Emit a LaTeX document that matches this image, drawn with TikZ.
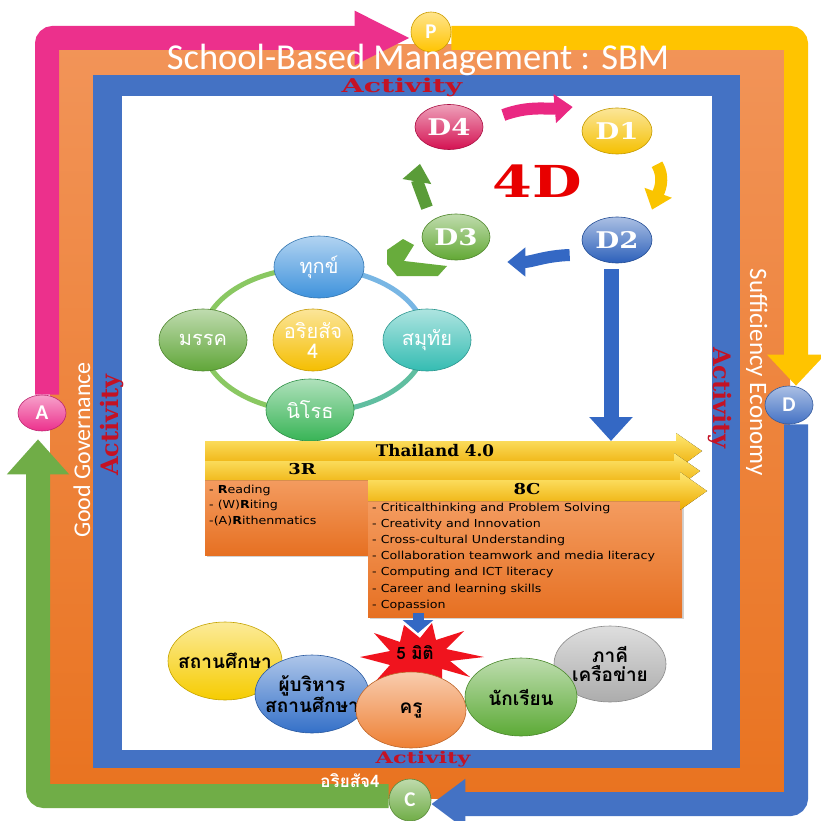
\documentclass[tikz,border=0pt]{standalone}
\usepackage{fontspec}
\usepackage{graphicx}
\usetikzlibrary{shapes.geometric,arrows.meta,calc,shadows}
\newfontfamily\thai[Script=Thai]{Loma}
\newfontfamily\carl{Carlito}
\newfontfamily\djs{DejaVu Serif}
\newfontfamily\djsans{DejaVu Sans}
\newcommand\zw[1]{\makebox[0pt]{#1}}
\newcommand\fsz[1]{\fontsize{#1}{#1}\selectfont}
\newcommand\wide[1]{\scalebox{1.15}[1]{#1}}
\definecolor{pinkF}{RGB}{236,48,140}
\definecolor{yellowF}{RGB}{255,196,0}
\definecolor{blueF}{RGB}{68,114,196}
\definecolor{greenF}{RGB}{112,173,71}
\definecolor{orangeT}{RGB}{242,148,88}
\definecolor{orangeB}{RGB}{233,115,32}
\definecolor{bandblue}{RGB}{68,114,196}
\definecolor{actred}{RGB}{196,18,36}
\definecolor{dfour}{RGB}{212,18,82}
\definecolor{done}{RGB}{245,192,0}
\definecolor{dtwo}{RGB}{44,96,186}
\definecolor{dthree}{RGB}{98,168,52}
\definecolor{cdukkha}{RGB}{62,146,220}
\definecolor{cmagga}{RGB}{96,166,56}
\definecolor{csamu}{RGB}{52,188,178}
\definecolor{cniro}{RGB}{56,180,86}
\definecolor{cariya}{RGB}{245,190,0}
\definecolor{ringg}{RGB}{138,200,98}
\definecolor{ringb}{RGB}{120,182,228}
\definecolor{ringt}{RGB}{96,190,160}
\definecolor{cschool}{RGB}{246,204,0}
\definecolor{cadmin}{RGB}{52,112,200}
\definecolor{cteach}{RGB}{238,128,52}
\definecolor{cstud}{RGB}{92,170,54}
\definecolor{cnet}{RGB}{172,172,172}
\definecolor{bary}{RGB}{255,214,0}
\definecolor{barD}{RGB}{236,170,0}
\definecolor{boxT}{RGB}{244,156,96}
\definecolor{boxB}{RGB}{230,112,34}
\definecolor{fourD}{RGB}{232,0,0}
\definecolor{starred}{RGB}{240,20,30}
\definecolor{chev}{RGB}{104,172,60}
\definecolor{arrpink}{RGB}{234,40,130}
\definecolor{arryel}{RGB}{250,196,0}
\definecolor{arrblue}{RGB}{52,104,196}
\definecolor{arrgreen}{RGB}{90,156,56}
\pgfdeclarelayer{back}
\pgfdeclarelayer{mid}
\pgfsetlayers{back,mid,main}
\tikzset{
  bub/.style={ellipse, inner sep=0pt, top color=#1!40!white, bottom color=#1, draw=#1!80!black, line width=0.6pt},
  pdca/.style={ellipse, inner sep=0pt, top color=#1!45!white, bottom color=#1, draw=#1!80!black, line width=0.6pt, text=white, font=\carl\bfseries\fsz{21}},
  framearrow/.style={line width=24pt, rounded corners=6pt},
  fatarrow/.style={draw=#1, line width=12pt, -{Triangle[width=28pt,length=18pt]}},
  bandtext/.style={text=white, font=\carl\fsz{#1}, inner sep=0pt},
  acttext/.style={text=actred, font=\djs\bfseries\fsz{#1}, inner sep=0pt},
  dlabel/.style={text=white, font=\djs\bfseries\fsz{23}},
  truth/.style={text=white, font=\thai\fsz{20}},
  person/.style={text=black, font=\thai\bfseries\fsz{19}},
  bartext/.style={text=black, font=\djs\bfseries\fsz{#1}, inner sep=0pt},
  listtext/.style={text=black, font=\djsans\fsz{11}, inner sep=0pt, anchor=west},
  orbox/.style={rectangle, inner sep=0pt, top color=boxT, bottom color=boxB, drop shadow={opacity=0.35, shadow xshift=2pt, shadow yshift=-2pt}},
}
\begin{document}
\begin{tikzpicture}[x=1pt,y=1pt]
\useasboundingbox (0,0) rectangle (821,-821);
\begin{pgfonlayer}{back}
\fill[white] (0,0) rectangle (821,-821);
\fill[top color=orangeT, bottom color=orangeB] (50,-45) rectangle (790,-798);
\fill[bandblue] (93,-75) rectangle (740,-768);
\fill[white] (122,-96) rectangle (712,-750);
\end{pgfonlayer}

% PDCA nodes
\node[pdca=yellowF, minimum width=40pt, minimum height=40pt] (P) at (431,-32) {\zw{P}};
\node[pdca=blueF, minimum width=48pt, minimum height=38pt] (D) at (789,-405) {\zw{D}};
\node[pdca=greenF, minimum width=42pt, minimum height=42pt] (C) at (410,-800) {\zw{C}};
\node[pdca=pinkF, minimum width=48pt, minimum height=36pt] (A) at (42,-413) {\zw{A}};

\begin{pgfonlayer}{mid}
\draw[framearrow, pinkF, -{Triangle[width=50pt,length=56pt]}] ([xshift=5pt]A.north) |- ([yshift=-6pt]P.west);
\draw[framearrow, yellowF, -{Triangle[width=56pt,length=31pt]}] ([yshift=-6pt]P.east) -| ([xshift=7pt]D.north);
\draw[framearrow, blueF, -{Triangle[width=48pt,length=34pt]}] ([xshift=7pt]D.south) |- ([yshift=-4pt]C.east);
\draw[framearrow, greenF, -{Triangle[width=60pt,length=35pt]}] ([yshift=4pt]C.west) -| ([xshift=-4pt,yshift=-8pt]A.south);
\end{pgfonlayer}

% band texts
\node[bandtext=36.5, anchor=base] (sbm) at (418,-70) {School-Based Management : SBM};
\node[bandtext=24, anchor=base, rotate=90] (gg) at (90,-450) {Good Governance};
\node[bandtext=25, anchor=base, rotate=-90] (se) at (750,-372) {Sufficiency Economy};
\node[acttext=19] (actT) at (402,-87) {\scalebox{1.5}[1]{Activity}};
\node[acttext=24, rotate=90] (actL) at (112,-425) {Activity};
\node[acttext=24, rotate=-90] (actR) at (720,-398) {Activity};
\node[acttext=16] (actB) at (423,-759) {\scalebox{1.4}[1]{Activity}};
\node[text=white, font=\thai\bfseries\fsz{17}, inner sep=0pt] (ariyaB) at (350,-781) {อริยสัจ4};

% 4D cycle
\node[bub=dfour, minimum width=68pt, minimum height=45pt, dlabel] (D4) at (449,-127) {\zw{\scalebox{1.2}[1]{D4}}};
\node[bub=done, minimum width=70pt, minimum height=46pt, dlabel] (D1) at (617,-131) {\zw{\scalebox{1.2}[1]{D1}}};
\node[bub=dtwo, minimum width=70pt, minimum height=46pt, dlabel] (D2) at (617,-240) {\zw{\scalebox{1.2}[1]{D2}}};
\node[bub=dthree, minimum width=68pt, minimum height=46pt, dlabel] (D3) at (456,-237) {\zw{\scalebox{1.2}[1]{D3}}};
\node[text=fourD, font=\djs\bfseries\fsz{44}, inner sep=0pt] (fourd) at (537,-181) {\scalebox{1.3}[1]{4D}};
\draw[fatarrow=arrpink] ($(D4.east)+(20,12)$) to[out=20,in=185] ($(D1.west)+(-9,24)$);
\draw[fatarrow=arryel] ($(D1.south)+(40,-10)$) to[out=-60,in=70] ($(D2.north)+(35,7)$);
\draw[fatarrow=arrblue] ($(D2.west)+(-12,-15)$) to[out=182,in=0] ($(D3.east)+(17,-25)$);
\draw[fatarrow=arrgreen] ($(D3.north)+(-29,6)$) to[out=110,in=-100] ($(D4.south)+(-29,-14)$);
\fill[chev] (387,-250) -- (403,-239) -- (414,-245) -- (404,-261) -- (447,-266) -- (438,-276) -- (397,-276) -- (387,-264) -- cycle;

% four noble truths
\coordinate (ringc) at (314,-340);
\draw[line width=5pt, ringg] ($(ringc)+(0,72)$) arc[start angle=90, end angle=270, x radius=112, y radius=72];
\draw[line width=5pt, ringb] ($(ringc)+(0,72)$) arc[start angle=90, end angle=0, x radius=112, y radius=72];
\draw[line width=5pt, ringt] ($(ringc)+(112,0)$) arc[start angle=0, end angle=-90, x radius=112, y radius=72];
\node[bub=cdukkha, minimum width=90pt, minimum height=62pt, truth] (dukkha) at (319,-267) {ทุกข์};
\node[bub=cmagga, minimum width=88pt, minimum height=62pt, truth] (magga) at (203,-340) {มรรค};
\node[bub=csamu, minimum width=88pt, minimum height=62pt, truth] (samu) at (427,-340) {สมุทัย};
\node[bub=cniro, minimum width=88pt, minimum height=62pt, truth] (niro) at (310,-410) {นิโรธ};
\node[bub=cariya, minimum width=80pt, minimum height=62pt, text=white, font=\thai\fsz{20}, align=center] (ariya) at (313,-340) {\zw{อริยสัจ}\\\zw{4}};

% Thailand 4.0 / 3R / 8C
\coordinate (T40) at (611,-441);
\draw[draw=arrblue, line width=15pt, -{Triangle[width=42pt,length=24pt]}] ($(D2.south)+(-6,-6)$) -- (T40);
\node[orbox, minimum width=195pt, minimum height=76pt, anchor=north west] (R3box) at (205,-479) {};
\node[orbox, minimum width=314pt, minimum height=117pt, anchor=north west] (C8box) at (368,-500) {};
\fill[top color=bary!55!white, bottom color=barD] (205,-441) -- (676,-441) -- (676,-433) -- (702,-451) -- (676,-470) -- (676,-461) -- (205,-461) -- cycle;
\fill[top color=bary!55!white, bottom color=barD] (205,-461) -- (674,-461) -- (674,-453) -- (700,-471) -- (674,-490) -- (674,-480) -- (205,-480) -- cycle;
\fill[top color=bary!55!white, bottom color=barD] (368,-480) -- (680,-480) -- (680,-472) -- (707,-491) -- (680,-510) -- (680,-501) -- (368,-501) -- cycle;
\node[bartext=16] (thtxt) at (435,-451) {\scalebox{1.05}[1]{Thailand 4.0}};
\node[bartext=15] (r3txt) at (302,-469) {\scalebox{1.2}[1]{3R}};
\node[bartext=15] (c8txt) at (527,-489) {\scalebox{1.2}[1]{8C}};
\foreach \t [count=\i] in {{- \textbf{R}eading},{- (W)\textbf{R}iting},{-(A)\textbf{R}ithenmatics}}
  \node[listtext] (rl\i) at (209,{-490-15.5*(\i-1)}) {\wide{\t}};
\foreach \t [count=\i] in {{- Criticalthinking and Problem Solving},{- Creativity and Innovation},{- Cross-cultural Understanding},{- Collaboration teamwork and media literacy},{- Computing and ICT literacy},{- Career and learning skills},{- Copassion}}
  \node[listtext] (cl\i) at (372,{-508-16.2*(\i-1)}) {\wide{\t}};

% five dimensions
\node[bub=cschool, minimum width=114pt, minimum height=78pt, person] (school) at (225,-661) {\zw{สถานศึกษา}};
\node[bub=cadmin, minimum width=114pt, minimum height=78pt, person, align=center] (admin) at (312,-694) {\zw{ผู้บริหาร}\\\zw{สถานศึกษา}};
\coordinate (starc) at (420,-655);
\begin{scope}[shift={(starc)}]
\fill[starred] (64,-2) -- (26,6) -- (44,24) -- (16,15) -- (12,32) -- (0,17) -- (-16,30) -- (-20,13) -- (-46,22) -- (-30,4) -- (-60,-2) -- (-30,-10) -- (-46,-28) -- (-16,-18) -- (-6,-36) -- (6,-18) -- (22,-32) -- (22,-14) -- (50,-22) -- (30,-6) -- cycle;
\end{scope}
\draw[draw=arrblue, line width=11pt, -{Triangle[width=30pt,length=13pt]}] ($(C8box.south west)+(50,4)$) -- ($(starc)+(-2,22)$);
\node[text=black, font=\thai\bfseries\fsz{17}, inner sep=0pt] (fivedim) at (415,-653) {5 มิติ};
\node[bub=cteach, minimum width=110pt, minimum height=76pt, person] (teach) at (411,-710) {\zw{ครู}};
\node[bub=cnet, minimum width=112pt, minimum height=76pt, person, align=center] (net) at (610,-664) {\zw{ภาคี}\\\zw{เครือข่าย}};
\node[bub=cstud, minimum width=112pt, minimum height=78pt, person] (stud) at (521,-697) {\zw{นักเรียน}};
\end{tikzpicture}
\end{document}
